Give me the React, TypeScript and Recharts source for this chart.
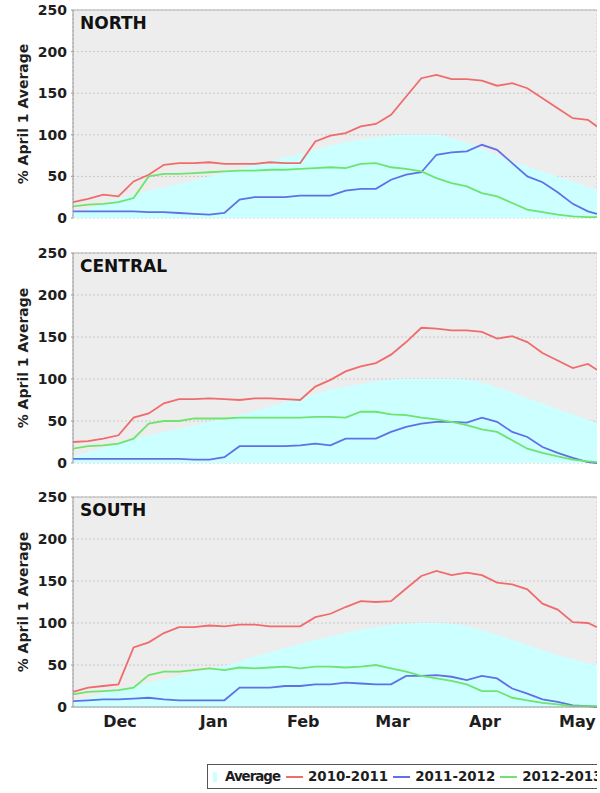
import React from 'react';
import {
  ComposedChart,
  Area,
  Line,
  XAxis,
  YAxis,
  CartesianGrid,
  ReferenceLine,
} from 'recharts';

// days since Dec 1, sampled every 5 days up to the right edge
const days = [
  0, 5, 10, 15, 20, 25, 30, 35, 40, 45, 50, 55, 60, 65, 70, 75, 80, 85, 90, 95,
  100, 105, 110, 115, 120, 125, 130, 135, 140, 145, 150, 155, 160, 165, 170, 173,
];

const monthNames = ['Dec', 'Jan', 'Feb', 'Mar', 'Apr', 'May'];
const monthLengths = [31, 31, 28, 31, 30, 31];
const yTicks = [0, 50, 100, 150, 200, 250];

const seriesNames = ['Average', '2010-2011', '2011-2012', '2012-2013'];
const seriesColors = ['#ccffff', '#f06c6c', '#6070e6', '#6ee46e'];

const northAvg = [5, 11, 17, 23, 28, 33, 37, 41, 45, 50, 54, 59, 64, 68, 73, 77, 82, 87, 91, 94, 97, 99, 100, 100, 100, 96, 90, 83, 75, 68, 62, 56, 50, 44, 37, 34];
const north1011 = [19, 23, 28, 26, 44, 52, 64, 66, 66, 67, 65, 65, 65, 67, 66, 66, 92, 99, 102, 110, 113, 124, 146, 168, 172, 167, 167, 165, 159, 162, 156, 144, 132, 120, 118, 110];
const north1112 = [8, 8, 8, 8, 8, 7, 7, 6, 5, 4, 6, 22, 25, 25, 25, 27, 27, 27, 33, 35, 35, 46, 52, 55, 76, 79, 80, 88, 82, 66, 50, 43, 31, 17, 8, 5];
const north1213 = [14, 16, 17, 19, 24, 50, 53, 53, 54, 55, 56, 57, 57, 58, 58, 59, 60, 61, 60, 65, 66, 61, 59, 56, 48, 42, 38, 30, 26, 18, 10, 7, 4, 2, 1, 1];

const centralAvg = [8, 13, 18, 23, 29, 33, 37, 41, 45, 49, 53, 57, 62, 67, 72, 77, 82, 87, 91, 94, 97, 99, 100, 100, 100, 100, 99, 96, 90, 84, 77, 71, 64, 58, 51, 48];
const central1011 = [25, 26, 29, 33, 54, 59, 71, 76, 76, 77, 76, 75, 77, 77, 76, 75, 91, 99, 109, 115, 119, 129, 144, 161, 160, 158, 158, 156, 148, 151, 144, 131, 122, 113, 118, 111];
const central1112 = [5, 5, 5, 5, 5, 5, 5, 5, 4, 4, 7, 20, 20, 20, 20, 21, 23, 21, 29, 29, 29, 37, 43, 47, 49, 49, 48, 54, 49, 37, 31, 19, 12, 6, 1, 0];
const central1213 = [17, 20, 21, 23, 29, 47, 50, 50, 53, 53, 53, 54, 54, 54, 54, 54, 55, 55, 54, 61, 61, 58, 57, 54, 52, 49, 45, 40, 37, 27, 17, 12, 8, 4, 2, 1];

const southAvg = [6, 11, 16, 21, 25, 29, 33, 37, 41, 45, 49, 54, 60, 65, 70, 75, 80, 84, 88, 92, 95, 98, 99, 100, 100, 99, 96, 91, 86, 80, 74, 68, 62, 57, 52, 50];
const south1011 = [18, 23, 25, 27, 71, 77, 88, 95, 95, 97, 96, 98, 98, 96, 96, 96, 107, 111, 119, 126, 125, 126, 141, 156, 162, 157, 160, 157, 148, 146, 140, 123, 116, 101, 100, 95];
const south1112 = [7, 8, 9, 9, 10, 11, 9, 8, 8, 8, 8, 23, 23, 23, 25, 25, 27, 27, 29, 28, 27, 27, 37, 37, 38, 36, 32, 37, 34, 22, 16, 9, 6, 2, 1, 0];
const south1213 = [15, 18, 19, 20, 23, 38, 42, 42, 44, 46, 44, 47, 46, 47, 48, 46, 48, 48, 47, 48, 50, 46, 42, 37, 34, 31, 27, 19, 19, 11, 8, 5, 3, 1, 1, 1];

const monthStarts: number[] = [];
const monthMids: number[] = [];
monthLengths.reduce((start, len) => {
  monthStarts.push(start);
  monthMids.push(start + len / 2);
  return start + len;
}, 0);
const gridDays = monthStarts.slice(1);
const xMax = days[days.length - 1];

const FONT = "'DejaVu Sans', Verdana, sans-serif";

const buildRows = (avg: number[], a: number[], b: number[], c: number[]) =>
  days.map((day, i) => ({ day, avg: avg[i], s1: a[i], s2: b[i], s3: c[i] }));

const panels = [
  { title: 'NORTH', top: 0, height: 230, bottom: 12, rows: buildRows(northAvg, north1011, north1112, north1213) },
  { title: 'CENTRAL', top: 243, height: 230, bottom: 10, rows: buildRows(centralAvg, central1011, central1112, central1213) },
  { title: 'SOUTH', top: 487, height: 260, bottom: 13, rows: buildRows(southAvg, south1011, south1112, south1213), axis: true },
];

const Panel = ({ p }: { p: any }) => (
  <div style={{ position: 'absolute', left: 0, top: p.top, width: 600, height: p.height }}>
    <ComposedChart
      width={600}
      height={p.height}
      data={p.rows}
      margin={{ top: 10, right: 3, bottom: p.bottom, left: 0 }}
    >
      <CartesianGrid fill="#eeeded" stroke="#c9c9c9" strokeDasharray="2 2" />
      <XAxis
        dataKey="day"
        type="number"
        domain={[0, xMax]}
        ticks={gridDays}
        hide={!p.axis}
        tick={false}
        tickSize={5}
        height={5}
        axisLine={{ stroke: '#9a9a9a' }}
        tickLine={{ stroke: '#9a9a9a' }}
      />
      {p.axis && (
        <XAxis
          xAxisId="labels"
          dataKey="day"
          type="number"
          domain={[0, xMax]}
          ticks={monthMids}
          tickFormatter={(v: number) => monthNames[monthMids.indexOf(v)]}
          axisLine={false}
          tickLine={false}
          tickSize={0}
          tickMargin={4}
          height={22}
          tick={{ fontSize: 16, fontWeight: 'bold', fill: '#1e1e1e', fontFamily: FONT }}
        />
      )}
      <YAxis
        type="number"
        domain={[0, 250]}
        ticks={yTicks}
        interval={0}
        width={73}
        tickSize={2}
        tickMargin={4}
        axisLine={{ stroke: '#9a9a9a' }}
        tickLine={{ stroke: '#9a9a9a' }}
        tick={{ fontSize: 14, fontWeight: 'bold', fill: '#1e1e1e', fontFamily: FONT }}
        label={{
          value: '% April 1 Average',
          angle: -90,
          position: 'insideLeft',
          offset: 23,
          style: { textAnchor: 'middle', fontSize: 14, fontWeight: 'bold', fill: '#1e1e1e', fontFamily: FONT },
        }}
      />
      <Area
        dataKey="avg"
        type="monotone"
        fill={seriesColors[0]}
        fillOpacity={1}
        stroke="none"
        isAnimationActive={false}
      />
      <Line dataKey="s1" type="linear" stroke={seriesColors[1]} strokeWidth={1.8} dot={false} isAnimationActive={false} />
      <Line dataKey="s2" type="linear" stroke={seriesColors[2]} strokeWidth={1.8} dot={false} isAnimationActive={false} />
      <Line dataKey="s3" type="linear" stroke={seriesColors[3]} strokeWidth={1.8} dot={false} isAnimationActive={false} />
      <ReferenceLine y={250} stroke="#b4b4b4" />
    </ComposedChart>
    <div
      style={{
        position: 'absolute',
        left: 80,
        top: 15,
        fontFamily: FONT,
        fontSize: 17,
        fontWeight: 'bold',
        lineHeight: '17px',
        color: '#111',
      }}
    >
      {p.title}
    </div>
  </div>
);

const Legend = () => (
  <div
    style={{
      position: 'absolute',
      left: 207,
      top: 764,
      height: 23,
      width: 460,
      border: '1px solid #555',
      background: '#fff',
      display: 'flex',
      alignItems: 'center',
      paddingLeft: 5,
      fontFamily: FONT,
      fontSize: 13.4,
      fontWeight: 'bold',
      color: '#1e1e1e',
      whiteSpace: 'nowrap',
    }}
  >
    {seriesNames.map((name, i) => (
      <span key={name} style={{ display: 'flex', alignItems: 'center', marginRight: i === 0 ? 6 : 5 }}>
        {i === 0 ? (
          <span style={{ width: 4, height: 10, background: seriesColors[0], marginRight: 8 }} />
        ) : (
          <span style={{ width: 17, height: 2, background: seriesColors[i], marginRight: 5 }} />
        )}
        <span style={{ letterSpacing: i === 0 ? -1 : 0 }}>{name}</span>
      </span>
    ))}
  </div>
);

export default function App() {
  return (
    <div
      style={{
        position: 'absolute',
        left: 0,
        top: 0,
        width: 597,
        height: 793,
        overflow: 'hidden',
        background: '#fff',
      }}
    >
      {panels.map((p) => (
        <Panel key={p.title} p={p} />
      ))}
      <Legend />
    </div>
  );
}
